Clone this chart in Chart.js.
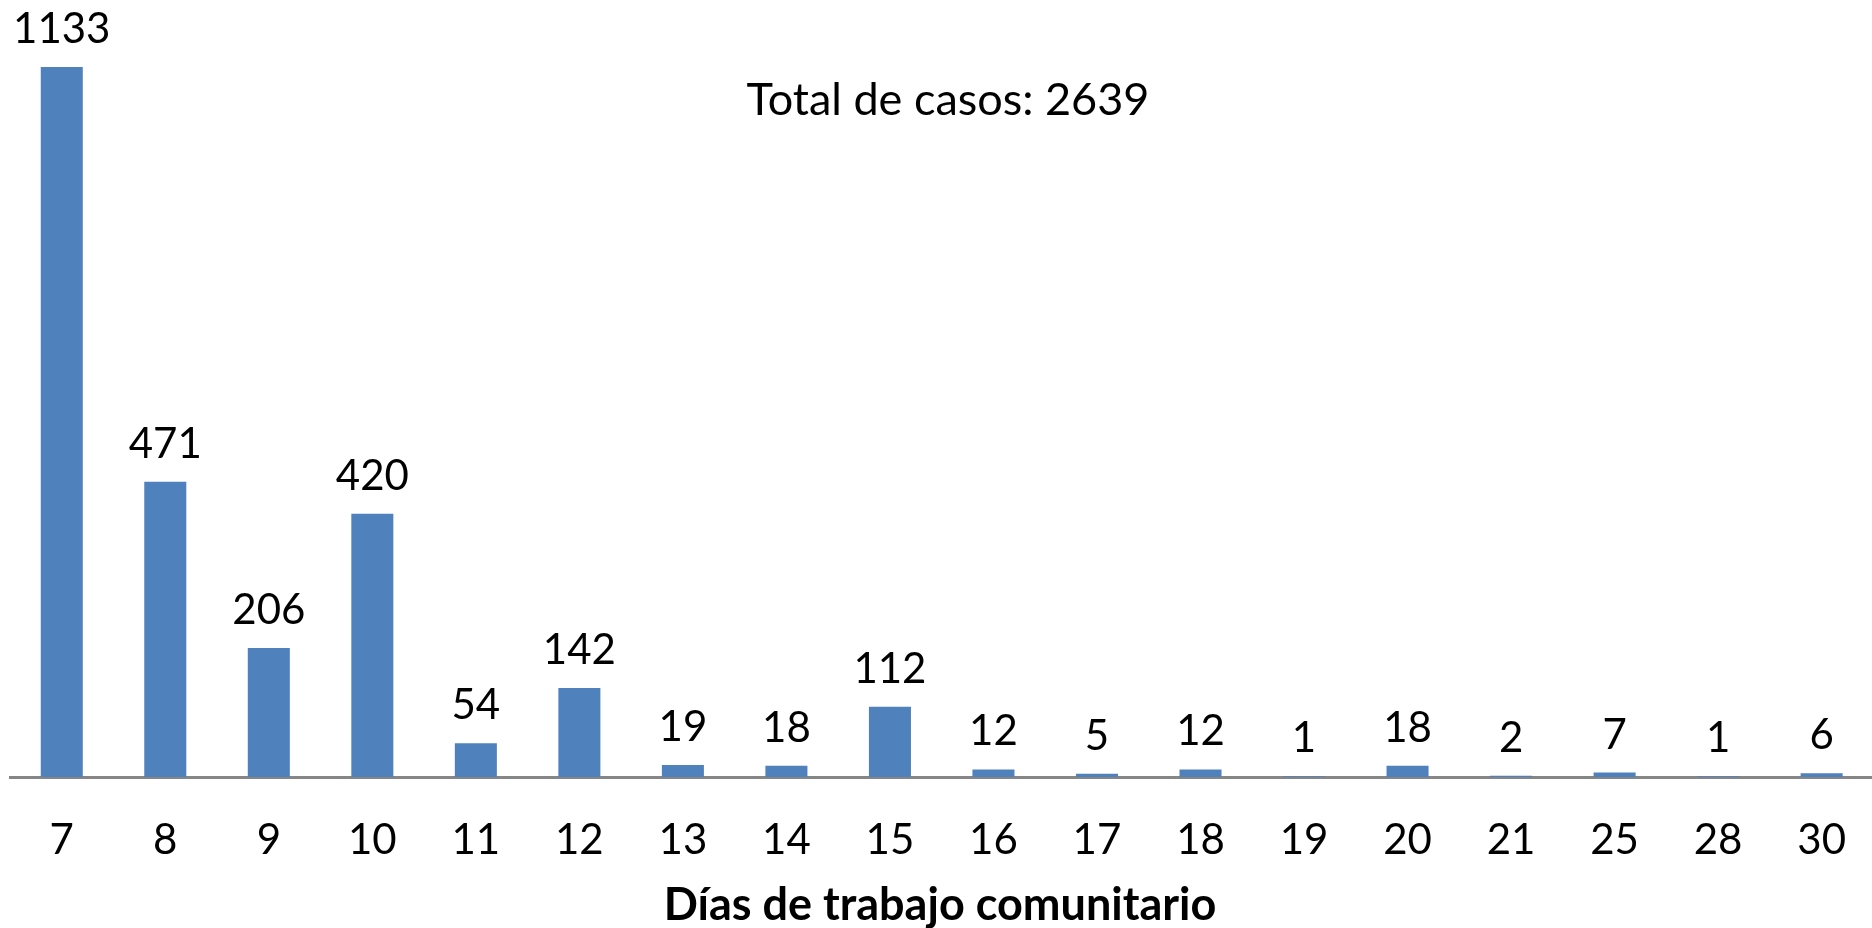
<!DOCTYPE html>
<html>
<head>
<meta charset="utf-8">
<script src="https://cdn.jsdelivr.net/npm/chart.js@4"></script>
<style>
  html, body { margin: 0; padding: 0; background: #fff; overflow: hidden; }
  #wrap { width: 1872px; height: 928px; overflow: hidden; }
</style>
</head>
<body>
<div id="wrap"><canvas id="chart" width="1884" height="928"></canvas></div>
<script>
// data
const dias = ['7', '8', '9', '10', '11', '12', '13', '14', '15', '16', '17', '18', '19', '20', '21', '25', '28', '30'];
const casos = [1133, 471, 206, 420, 54, 142, 19, 18, 112, 12, 5, 12, 1, 18, 2, 7, 1, 6];
const totalText = 'Total de casos: 2639';
const axisTitle = 'Días de trabajo comunitario';

const FONT = 'Lato, "Open Sans", sans-serif';

// value labels above each bar + the two free texts
const labelsPlugin = {
  id: 'labels',
  afterDatasetsDraw(chart) {
    const ctx = chart.ctx;
    const meta = chart.getDatasetMeta(0);
    ctx.save();
    ctx.fillStyle = '#000';
    ctx.textAlign = 'center';
    ctx.textBaseline = 'alphabetic';
    ctx.font = '42px ' + FONT;
    meta.data.forEach((bar, i) => {
      ctx.fillText(String(casos[i]), bar.x, bar.y - 24);
    });
    ctx.font = '45px ' + FONT;
    ctx.fillText(totalText, 948, 115);
    ctx.font = 'bold 45px ' + FONT;
    ctx.fillText(axisTitle, 940, 920);
    ctx.restore();
  }
};

new Chart(document.getElementById('chart'), {
  type: 'bar',
  data: {
    labels: dias,
    datasets: [{
      data: casos,
      backgroundColor: '#4F81BD',
      borderWidth: 0,
      categoryPercentage: 1,
      barPercentage: 0.406,
    }],
  },
  options: {
    responsive: false,
    animation: false,
    layout: { padding: { left: 10, right: 0, top: 20, bottom: 0 } },
    plugins: {
      legend: { display: false },
      tooltip: { enabled: false },
    },
    scales: {
      x: {
        grid: { display: false, drawTicks: false },
        border: { display: true, color: '#868686', width: 3 },
        ticks: {
          color: '#000',
          font: { family: FONT, size: 42 },
          padding: 38,
          maxRotation: 0,
          autoSkip: false,
        },
        afterFit(scale) { scale.height = 151; },
      },
      y: {
        display: false,
        min: 0,
        max: 1208,
      },
    },
  },
  plugins: [labelsPlugin],
});
</script>
</body>
</html>
